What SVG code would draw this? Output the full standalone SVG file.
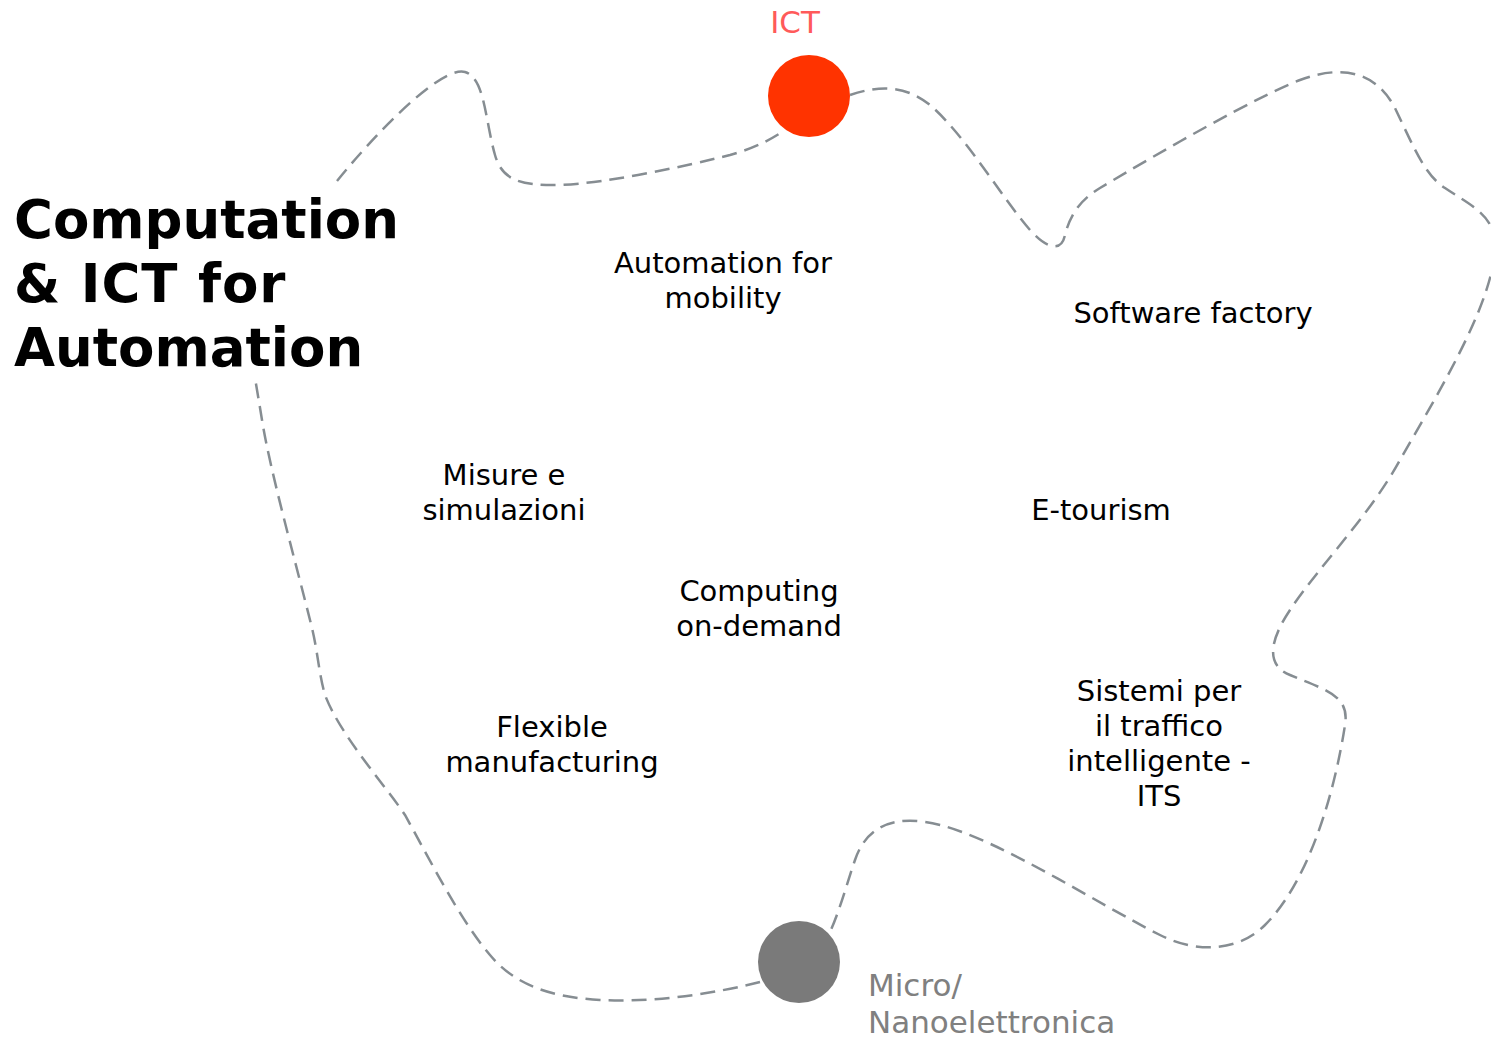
<svg xmlns="http://www.w3.org/2000/svg" width="1491" height="1038" viewBox="0 0 1491 1038">
<style>
.lbl{font-family:"DejaVu Sans","Verdana",sans-serif;font-size:29px;fill:#000;text-anchor:middle}
.title{font-family:"DejaVu Sans","Verdana",sans-serif;font-size:53px;font-weight:bold;fill:#000}
.conn{fill:none;stroke:#868d92;stroke-width:2.5;stroke-dasharray:15 8}
</style>
<rect width="1491" height="1038" fill="#fff"/>
<g id="connectors">
<path class="conn" d="M 337 181 C 370 140, 440 65, 465 72 C 485 78, 485 120, 495 155 C 502 180, 520 186, 560 185 C 610 183, 690 165, 730 155 C 755 148, 770 140, 785 130"/>
<path class="conn" d="M 850 95 C 880 85, 905 85, 930 105 C 965 135, 1000 195, 1030 230 C 1050 252, 1062 250, 1065 235 C 1070 215, 1080 200, 1100 188 C 1160 152, 1260 95, 1300 80 C 1340 65, 1375 70, 1395 108 C 1415 150, 1425 175, 1445 188 C 1470 205, 1495 215, 1495 245 C 1495 300, 1440 390, 1400 460 C 1370 515, 1320 565, 1290 610 C 1270 640, 1265 665, 1290 675 C 1325 690, 1350 695, 1345 725 C 1335 790, 1310 880, 1265 925 C 1240 950, 1200 955, 1160 935 C 1100 905, 1000 840, 940 825 C 890 812, 865 830, 855 860 C 848 880, 840 910, 830 932"/>
<path class="conn" d="M 760 982 C 720 992, 660 1003, 600 1000 C 550 997, 515 985, 490 955 C 460 920, 430 860, 405 815 C 385 785, 340 735, 325 695 C 318 670, 318 650, 310 620 C 295 560, 270 470, 262 420 C 258 395, 256 385, 255 377"/>
</g>
<g id="title"><text class="title" x="14" y="238">Computation</text><text class="title" x="14" y="302" letter-spacing="1">&amp; ICT for</text><text class="title" x="14" y="366">Automation</text></g>
<g id="ict"><circle cx="809" cy="96" r="41" fill="#ff3300"/><text x="795" y="33" style="font-family:'DejaVu Sans',sans-serif;font-size:31px;fill:#ff5a5a;text-anchor:middle">ICT</text></g>
<g id="micro"><circle cx="799" cy="962" r="41" fill="#7a7a7a"/><text x="868" y="996" style="font-family:'DejaVu Sans',sans-serif;font-size:31px;fill:#808080">Micro/</text><text x="868" y="1033" style="font-family:'DejaVu Sans',sans-serif;font-size:31px;fill:#808080">Nanoelettronica</text></g>
<g id="automation-mobility"><text class="lbl" x="723" y="273">Automation for</text><text class="lbl" x="723" y="308">mobility</text></g>
<g id="software-factory"><text class="lbl" x="1193" y="323">Software factory</text></g>
<g id="misure"><text class="lbl" x="504" y="485">Misure e</text><text class="lbl" x="504" y="520">simulazioni</text></g>
<g id="e-tourism"><text class="lbl" x="1101" y="520">E-tourism</text></g>
<g id="computing"><text class="lbl" x="759" y="601">Computing</text><text class="lbl" x="759" y="636">on-demand</text></g>
<g id="flexible"><text class="lbl" x="552" y="737">Flexible</text><text class="lbl" x="552" y="772">manufacturing</text></g>
<g id="its"><text class="lbl" x="1159" y="701">Sistemi per</text><text class="lbl" x="1159" y="736">il traffico</text><text class="lbl" x="1159" y="771">intelligente -</text><text class="lbl" x="1159" y="806">ITS</text></g>
</svg>
